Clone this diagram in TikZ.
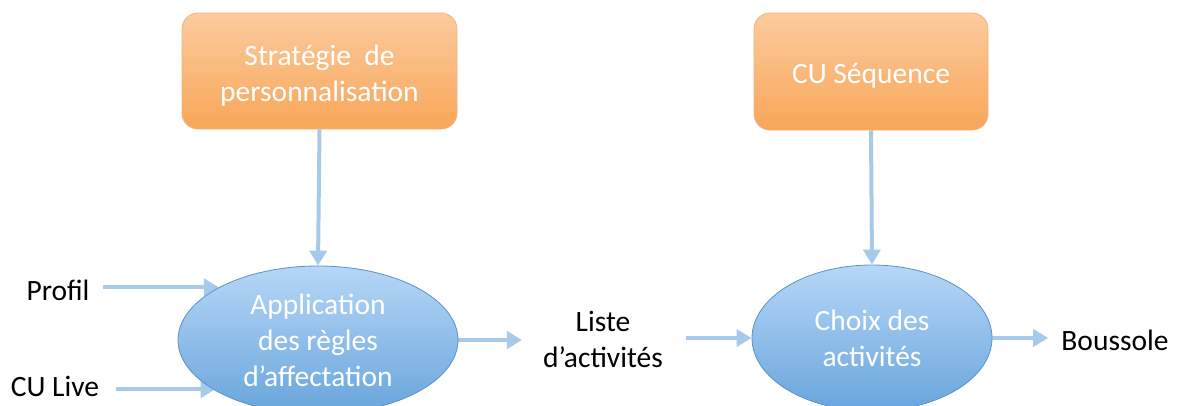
\documentclass[tikz,border=0pt]{standalone}
\usepackage{fontspec}
\setmainfont{Carlito}
\usetikzlibrary{shapes.geometric,arrows.meta,backgrounds}
\definecolor{arrowblue}{HTML}{A8CAEA}
\definecolor{elltop}{HTML}{B6D7F7}
\definecolor{ellbot}{HTML}{68A5DC}
\definecolor{ellline}{HTML}{5B90C8}
\definecolor{boxtop}{HTML}{FCCB9E}
\definecolor{boxbot}{HTML}{F8A659}
\definecolor{boxline}{HTML}{F6B27A}
\tikzset{
  orangebox/.style={draw=boxline, line width=0.8pt, rounded corners=16pt,
    top color=boxtop, bottom color=boxbot, text=white, align=center,
    font=\fontsize{29.5}{36}\selectfont},
  blueell/.style={ellipse, draw=ellline, line width=0.8pt, inner sep=0pt,
    top color=elltop, bottom color=ellbot, text=white, align=center,
    font=\fontsize{29.5}{36}\selectfont},
  label/.style={text=black, align=center, inner sep=0pt,
    font=\fontsize{29.5}{36}\selectfont},
  flow/.style={draw=arrowblue, line width=4pt,
    -{Triangle[length=15pt,width=17pt]}}
}
\begin{document}
\begin{tikzpicture}[x=1pt,y=-1pt]
\useasboundingbox (0,0) rectangle (1178,405);
\clip (0,0) rectangle (1178,405);
% nodes
\node[orangebox, minimum width=275pt, minimum height=116pt] (b1) at (319.5,71) {\raisebox{6pt}[0pt][0pt]{\begin{tabular}[t]{@{}c@{}}Stratégie\ \ de\\personnalisation\end{tabular}}};
\node[orangebox, minimum width=234pt, minimum height=117pt] (b2) at (871,71.5) {\raisebox{-11.5pt}[0pt][0pt]{CU Séquence}};
\node[label] (profil) at (58,290) {Profil};
\node[label] (culive) at (55,386) {CU Live};
\node[label] (liste) at (603,339) {Liste\\d’activités};
\node[label] (boussole) at (1115,340) {Boussole};
\node[blueell, minimum width=280pt, minimum height=148pt] (e1) at (318,340) {Application\\des règles\\d’affectation};
\node[blueell, minimum width=240pt, minimum height=146pt] (e2) at (872,338) {Choix des\\activités};
% connectors, behind the shapes
\begin{scope}[on background layer]
\draw[flow] (b1.south) -- (e1.north);
\draw[flow] (b2.south) -- (e2.north);
\draw[flow, shorten <=13pt] (profil.east |- e1.152.4) -- (e1.152.4);
\draw[flow, shorten <=17pt, shorten >=-3pt] (culive.east |- e1.205.9) -- (e1.205.9);
\draw[flow, shorten >=21pt] (e1.east) -- (liste.west |- e1.east);
\draw[flow, shorten <=23pt] (liste.east |- e2.west) -- (e2.west);
\draw[flow, shorten >=13pt] (e2.east) -- (boussole.west |- e2.east);
\end{scope}
\end{tikzpicture}
\end{document}
